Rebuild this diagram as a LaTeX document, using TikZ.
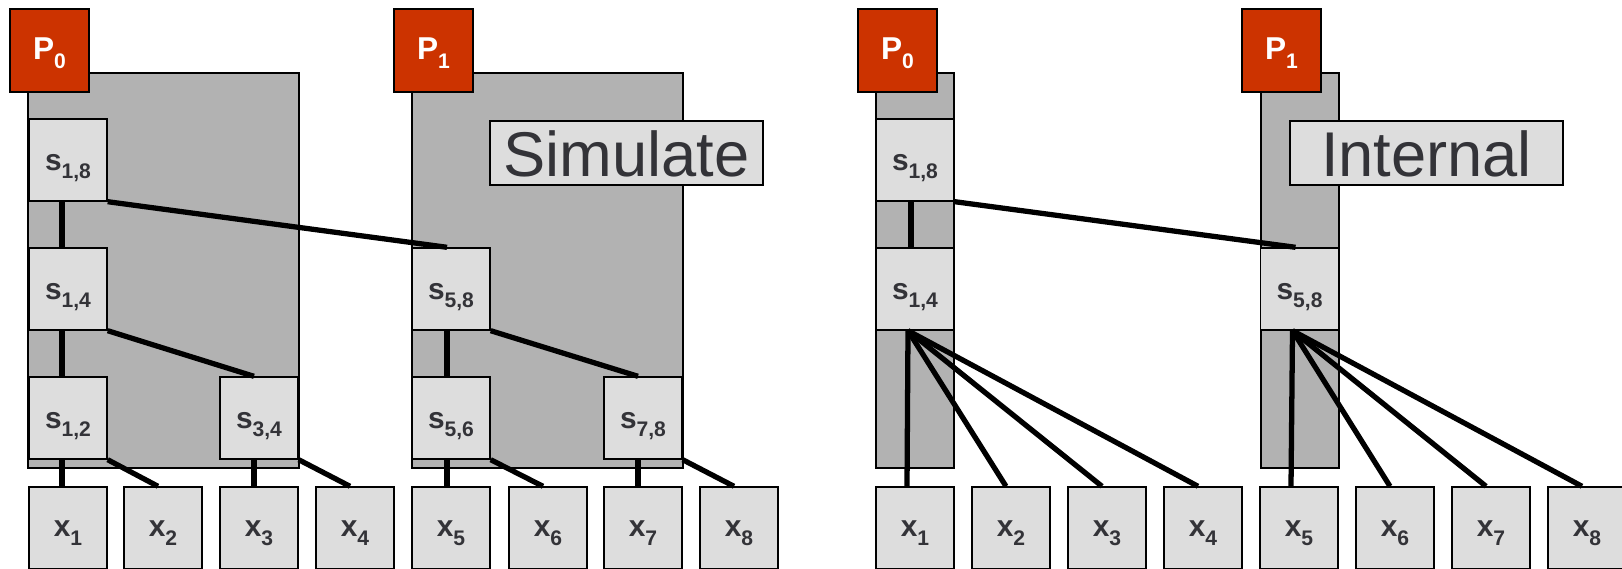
\documentclass[tikz,border=0pt]{standalone}
\usepackage{fontspec}
\setmainfont{Liberation Sans}
\usepackage{xcolor}
\definecolor{procred}{HTML}{CC3300}
\definecolor{regiongray}{HTML}{B2B2B2}
\definecolor{boxgray}{HTML}{DDDDDD}
\definecolor{labelgray}{HTML}{333338}
\newcommand{\lowsub}[2]{#1\raisebox{-5pt}{\fontsize{12}{12}\selectfont #2}}
\tikzset{
    region/.style={draw, fill=regiongray, line width=0.8pt},
    procbox/.style={draw, fill=procred, text=white, inner sep=0pt, line width=0.8pt,
        minimum width=1.58cm, minimum height=1.66cm, text height=10.8pt, text depth=0pt,
        font=\fontsize{18}{18}\selectfont\bfseries},
    sumbox/.style={draw, fill=boxgray, text=labelgray, inner sep=0pt, line width=0.8pt,
        minimum width=1.56cm, minimum height=1.64cm, text height=11.4pt, text depth=0pt,
        font=\fontsize{17}{17}\selectfont\bfseries},
    leafbox/.style={sumbox, text height=10.2pt},
    tagbox/.style={draw, fill=boxgray, text=labelgray, inner sep=0pt, line width=0.8pt,
        minimum width=5.46cm, minimum height=1.28cm, text height=27.2pt, text depth=0pt,
        font=\fontsize{36}{36}\selectfont},
    link/.style={line width=3pt}
}
\begin{document}
\begin{tikzpicture}[x=0.02cm, y=-0.02cm]
            \useasboundingbox (0,0) rectangle (1622,568);

            \draw[region] (28,73) rectangle (299,468);
            \draw[region] (412,73) rectangle (683,468);
            \draw[region] (876,73) rectangle (954,468);
            \draw[region] (1261,73) rectangle (1339,468);

            \node[procbox] (simproc0) at (49.5,50.5) {\lowsub{P}{0}};
            \node[procbox] (simproc1) at (433.5,50.5) {\lowsub{P}{1}};
            \node[procbox] (intproc0) at (897.5,50.5) {\lowsub{P}{0}};
            \node[procbox] (intproc1) at (1281.5,50.5) {\lowsub{P}{1}};

            \node[sumbox] (simsum18) at (68,160) {\lowsub{s}{1,8}};
            \node[sumbox] (simsum14) at (68,289) {\lowsub{s}{1,4}};
            \node[sumbox] (simsum12) at (68,418) {\lowsub{s}{1,2}};
            \node[sumbox] (simsum34) at (259,418) {\lowsub{s}{3,4}};
            \node[sumbox] (simsum58) at (451,289) {\lowsub{s}{5,8}};
            \node[sumbox] (simsum56) at (451,418) {\lowsub{s}{5,6}};
            \node[sumbox] (simsum78) at (643,418) {\lowsub{s}{7,8}};

            \node[sumbox] (intsum18) at (915,160) {\lowsub{s}{1,8}};
            \node[sumbox] (intsum14) at (915,289) {\lowsub{s}{1,4}};
            \node[sumbox] (intsum58) at (1299.5,289) {\lowsub{s}{5,8}};

            \node[tagbox] (simtag) at (626.5,153) {Simulate};
            \node[tagbox] (inttag) at (1426.5,153) {Internal};

            \node[leafbox] (simleaf1) at (68,528) {\lowsub{x}{1}};
            \node[leafbox] (simleaf2) at (163,528) {\lowsub{x}{2}};
            \node[leafbox] (simleaf3) at (259,528) {\lowsub{x}{3}};
            \node[leafbox] (simleaf4) at (355,528) {\lowsub{x}{4}};
            \node[leafbox] (simleaf5) at (451,528) {\lowsub{x}{5}};
            \node[leafbox] (simleaf6) at (548,528) {\lowsub{x}{6}};
            \node[leafbox] (simleaf7) at (643,528) {\lowsub{x}{7}};
            \node[leafbox] (simleaf8) at (739,528) {\lowsub{x}{8}};

            \node[leafbox] (intleaf1) at (915,528) {\lowsub{x}{1}};
            \node[leafbox] (intleaf2) at (1011,528) {\lowsub{x}{2}};
            \node[leafbox] (intleaf3) at (1107,528) {\lowsub{x}{3}};
            \node[leafbox] (intleaf4) at (1203,528) {\lowsub{x}{4}};
            \node[leafbox] (intleaf5) at (1299,528) {\lowsub{x}{5}};
            \node[leafbox] (intleaf6) at (1395,528) {\lowsub{x}{6}};
            \node[leafbox] (intleaf7) at (1491,528) {\lowsub{x}{7}};
            \node[leafbox] (intleaf8) at (1587,528) {\lowsub{x}{8}};

            \draw[link] ([xshift=-0.12cm]simsum18.south) -- ([xshift=-0.12cm]simsum14.north);
            \draw[link] ([xshift=-0.12cm]simsum14.south) -- ([xshift=-0.12cm]simsum12.north);
            \draw[link] ([xshift=-0.12cm]simsum12.south) -- ([xshift=-0.12cm]simleaf1.north);
            \draw[link] ([xshift=-0.1cm]simsum34.south) -- ([xshift=-0.1cm]simleaf3.north);
            \draw[link] (simsum18.south east) -- ([xshift=-0.08cm]simsum58.north);
            \draw[link] (simsum14.south east) -- ([xshift=-0.1cm]simsum34.north);
            \draw[link] (simsum12.south east) -- ([xshift=-0.1cm]simleaf2.north);
            \draw[link] (simsum34.south east) -- ([xshift=-0.1cm]simleaf4.north);

            \draw[link] ([xshift=-0.08cm]simsum58.south) -- ([xshift=-0.08cm]simsum56.north);
            \draw[link] ([xshift=-0.08cm]simsum56.south) -- ([xshift=-0.08cm]simleaf5.north);
            \draw[link] ([xshift=-0.1cm]simsum78.south) -- ([xshift=-0.1cm]simleaf7.north);
            \draw[link] (simsum58.south east) -- ([xshift=-0.1cm]simsum78.north);
            \draw[link] (simsum56.south east) -- ([xshift=-0.1cm]simleaf6.north);
            \draw[link] (simsum78.south east) -- ([xshift=-0.1cm]simleaf8.north);

            \draw[link] ([xshift=-0.08cm]intsum18.south) -- ([xshift=-0.08cm]intsum14.north);
            \draw[link] (intsum18.south east) -- ([xshift=-0.08cm]intsum58.north);

            \draw[link] ([xshift=-0.14cm]intsum14.south) -- ([xshift=-0.16cm]intleaf1.north);
            \draw[link] ([xshift=-0.14cm]intsum14.south) -- ([xshift=-0.1cm]intleaf2.north);
            \draw[link] ([xshift=-0.14cm]intsum14.south) -- ([xshift=-0.1cm]intleaf3.north);
            \draw[link] ([xshift=-0.14cm]intsum14.south) -- ([xshift=-0.1cm]intleaf4.north);

            \draw[link] ([xshift=-0.14cm]intsum58.south) -- ([xshift=-0.16cm]intleaf5.north);
            \draw[link] ([xshift=-0.14cm]intsum58.south) -- ([xshift=-0.1cm]intleaf6.north);
            \draw[link] ([xshift=-0.14cm]intsum58.south) -- ([xshift=-0.1cm]intleaf7.north);
            \draw[link] ([xshift=-0.14cm]intsum58.south) -- ([xshift=-0.1cm]intleaf8.north);
\end{tikzpicture}
\end{document}
